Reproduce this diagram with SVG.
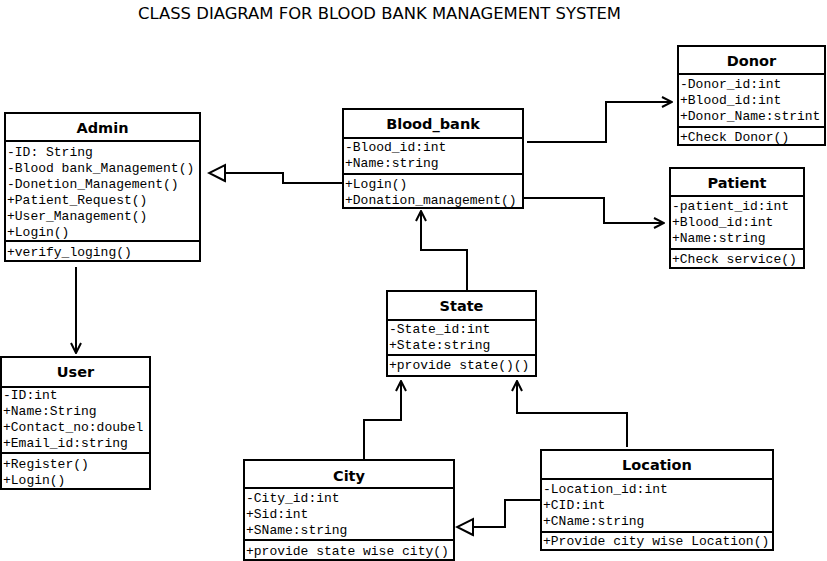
<svg xmlns="http://www.w3.org/2000/svg" width="827" height="561" viewBox="0 0 827 561">
<style>
.box{fill:#fff;stroke:#000;stroke-width:2}
.sep{stroke:#000;stroke-width:2}
.ttl{font-family:"DejaVu Sans","Verdana",sans-serif;font-weight:bold;font-size:14.5px;text-anchor:middle;fill:#000}
.m{font-family:"Liberation Mono","Courier New",monospace;font-size:13px;fill:#000;white-space:pre}
.head{font-family:"DejaVu Sans","Verdana",sans-serif;font-size:16px;fill:#000}
.c{fill:none;stroke:#000;stroke-width:2}
</style>
<defs>
<marker id="open" viewBox="0 0 12 12" refX="11" refY="6" markerWidth="12" markerHeight="12" markerUnits="userSpaceOnUse" orient="auto">
<path d="M1,1 L11,6 L1,11" fill="none" stroke="#000" stroke-width="2"/>
</marker>
<marker id="tri" viewBox="0 0 20 20" refX="18" refY="10" markerWidth="20" markerHeight="20" markerUnits="userSpaceOnUse" orient="auto">
<path d="M2,2 L18,10 L2,18 Z" fill="#fff" stroke="#000" stroke-width="2"/>
</marker>
</defs>
<rect width="827" height="561" fill="#fff"/>
<text class="head" x="138" y="19" textLength="483" lengthAdjust="spacingAndGlyphs">CLASS DIAGRAM FOR BLOOD BANK MANAGEMENT SYSTEM</text>

<g id="connectors">
<polyline class="c" points="343,183 283,183 283,173 209,173" marker-end="url(#tri)"/>
<line class="c" x1="76" y1="267" x2="76" y2="353" marker-end="url(#open)"/>
<polyline class="c" points="527,142 606,142 606,102 672,102" marker-end="url(#open)"/>
<polyline class="c" points="523,198 604,198 604,223 664,223" marker-end="url(#open)"/>
<polyline class="c" points="467,291 467,250 421,250 421,211" marker-end="url(#open)"/>
<polyline class="c" points="364,460 364,420 401,420 401,381" marker-end="url(#open)"/>
<polyline class="c" points="627,447 627,413 517,413 517,381" marker-end="url(#open)"/>
<polyline class="c" points="541,500 505,500 505,527 457,527" marker-end="url(#tri)"/>
</g>

<g id="admin">
<rect class="box" x="5" y="113" width="195" height="148"/>
<line class="sep" x1="5" y1="141" x2="200" y2="141"/>
<line class="sep" x1="5" y1="241" x2="200" y2="241"/>
<text class="ttl" x="102.5" y="133">Admin</text>
<text class="m" x="7" y="156">-ID: String</text>
<text class="m" x="7" y="172">-Blood bank_Management()</text>
<text class="m" x="7" y="188">-Donetion_Management()</text>
<text class="m" x="7" y="204">+Patient_Request()</text>
<text class="m" x="7" y="220">+User_Management()</text>
<text class="m" x="7" y="236">+Login()</text>
<text class="m" x="7" y="256">+verify_loging()</text>
</g>

<g id="blood_bank">
<rect class="box" x="343" y="109" width="180" height="99"/>
<line class="sep" x1="343" y1="138" x2="523" y2="138"/>
<line class="sep" x1="343" y1="174" x2="523" y2="174"/>
<text class="ttl" x="433" y="129">Blood_bank</text>
<text class="m" x="345" y="151">-Blood_id:int</text>
<text class="m" x="345" y="167">+Name:string</text>
<text class="m" x="345" y="188">+Login()</text>
<text class="m" x="345" y="204">+Donation_management()</text>
</g>

<g id="donor">
<rect class="box" x="678" y="46" width="147" height="99"/>
<line class="sep" x1="678" y1="74" x2="825" y2="74"/>
<line class="sep" x1="678" y1="127" x2="825" y2="127"/>
<text class="ttl" x="751.5" y="66">Donor</text>
<text class="m" x="680" y="88">-Donor_id:int</text>
<text class="m" x="680" y="104">+Blood_id:int</text>
<text class="m" x="680" y="120">+Donor_Name:strint</text>
<text class="m" x="680" y="141">+Check Donor()</text>
</g>

<g id="patient">
<rect class="box" x="670" y="168" width="134" height="100"/>
<line class="sep" x1="670" y1="196" x2="804" y2="196"/>
<line class="sep" x1="670" y1="249" x2="804" y2="249"/>
<text class="ttl" x="737" y="188">Patient</text>
<text class="m" x="672" y="210">-patient_id:int</text>
<text class="m" x="672" y="226">+Blood_id:int</text>
<text class="m" x="672" y="242">+Name:string</text>
<text class="m" x="672" y="263">+Check service()</text>
</g>

<g id="user">
<rect class="box" x="1" y="357" width="149" height="132"/>
<line class="sep" x1="1" y1="387" x2="150" y2="387"/>
<line class="sep" x1="1" y1="453" x2="150" y2="453"/>
<text class="ttl" x="75.5" y="377">User</text>
<text class="m" x="3" y="399">-ID:int</text>
<text class="m" x="3" y="415">+Name:String</text>
<text class="m" x="3" y="431">+Contact_no:doubel</text>
<text class="m" x="3" y="447">+Email_id:string</text>
<text class="m" x="3" y="468">+Register()</text>
<text class="m" x="3" y="484">+Login()</text>
</g>

<g id="state">
<rect class="box" x="387" y="291" width="149" height="85"/>
<line class="sep" x1="387" y1="320" x2="536" y2="320"/>
<line class="sep" x1="387" y1="355" x2="536" y2="355"/>
<text class="ttl" x="461.5" y="311">State</text>
<text class="m" x="389" y="333">-State_id:int</text>
<text class="m" x="389" y="349">+State:string</text>
<text class="m" x="389" y="369">+provide state()()</text>
</g>

<g id="city">
<rect class="box" x="244" y="460" width="210" height="100"/>
<line class="sep" x1="244" y1="488" x2="454" y2="488"/>
<line class="sep" x1="244" y1="540" x2="454" y2="540"/>
<text class="ttl" x="349" y="481">City</text>
<text class="m" x="246" y="502">-City_id:int</text>
<text class="m" x="246" y="518">+Sid:int</text>
<text class="m" x="246" y="534">+SName:string</text>
<text class="m" x="246" y="555">+provide state wise city()</text>
</g>

<g id="location">
<rect class="box" x="541" y="450" width="232" height="100"/>
<line class="sep" x1="541" y1="479" x2="773" y2="479"/>
<line class="sep" x1="541" y1="532" x2="773" y2="532"/>
<text class="ttl" x="657" y="470">Location</text>
<text class="m" x="543" y="493">-Location_id:int</text>
<text class="m" x="543" y="509">+CID:int</text>
<text class="m" x="543" y="525">+CName:string</text>
<text class="m" x="543" y="545">+Provide city wise Location()</text>
</g>
</svg>
